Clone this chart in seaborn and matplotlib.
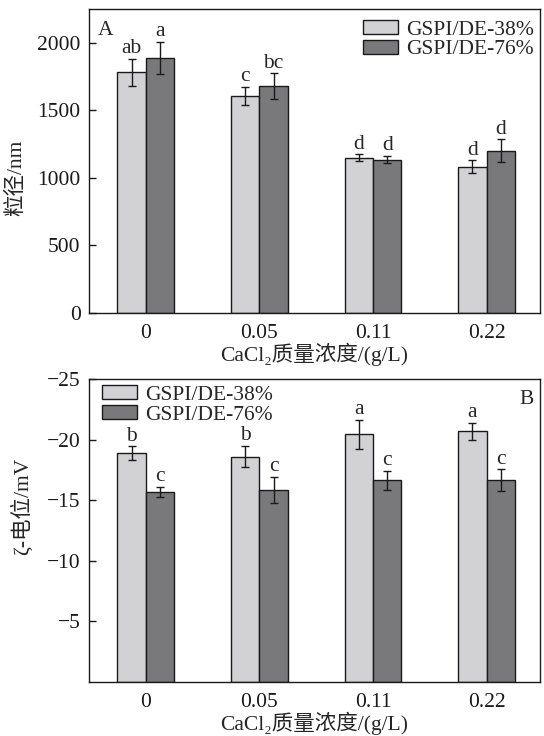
import numpy as np
import pandas as pd
import matplotlib
matplotlib.use("Agg")
import matplotlib.pyplot as plt
import seaborn as sns

# ---- data ----
concentrations = ["0", "0.05", "0.11", "0.22"]
series = ["GSPI/DE-38%", "GSPI/DE-76%"]

size_38 = [1782, 1609, 1149, 1082]
size_38_err = [100, 65, 26, 47]
size_76 = [1891, 1681, 1136, 1200]
size_76_err = [120, 94, 28, 85]
size_38_letters = ["ab", "c", "d", "d"]
size_76_letters = ["a", "bc", "d", "d"]

zeta_38 = [-18.9, -18.6, -20.45, -20.7]
zeta_38_err = [0.55, 0.9, 1.2, 0.7]
zeta_76 = [-15.7, -15.85, -16.65, -16.65]
zeta_76_err = [0.43, 1.1, 0.8, 0.9]
zeta_38_letters = ["b", "b", "a", "a"]
zeta_76_letters = ["c", "c", "c", "c"]

size_yticks = [0, 500, 1000, 1500, 2000]
zeta_yticks = [-25, -20, -15, -10, -5]

sns.set_theme(style="ticks")
plt.rcParams["font.family"] = ["Liberation Serif", "Noto Sans CJK SC", "DejaVu Sans"]
plt.rcParams["axes.unicode_minus"] = True

colors = ["#d2d2d4", "#79797b"]
FS = 15.5

fig = plt.figure(figsize=(5.44, 7.36), dpi=100)
ax1 = fig.add_axes([89 / 544, 1 - 312.7 / 736, 451 / 544, 303.4 / 736])
ax2 = fig.add_axes([89 / 544, 1 - 682 / 736, 451 / 544, 303 / 736])


def make_df(v1, v2):
    return pd.DataFrame({
        "conc": concentrations * 2,
        "value": list(v1) + list(v2),
        "series": [series[0]] * 4 + [series[1]] * 4,
    })


def draw(ax, v1, e1, l1, v2, e2, l2, inverted=False):
    df = make_df(v1, v2)
    sns.barplot(data=df, x="conc", y="value", hue="series", order=concentrations,
                hue_order=series, palette=colors, width=0.5, gap=0, errorbar=None,
                edgecolor="#1a1a1a", linewidth=1.0, saturation=1, ax=ax)
    for cont, errs, letters in zip(ax.containers, [e1, e2], [l1, l2]):
        for p, err, lt in zip(cont.patches, errs, letters):
            xc = p.get_x() + p.get_width() / 2
            h = p.get_height()
            ax.errorbar(xc, h, yerr=err, fmt="none", ecolor="#1a1a1a",
                        elinewidth=1.0, capsize=3, capthick=1.0)
            top = h - err if inverted else h + err
            ax.annotate(lt, (xc, top), xytext=(0, 0.5), textcoords="offset points",
                        ha="center", va="bottom", fontsize=FS)


draw(ax1, size_38, size_38_err, size_38_letters, size_76, size_76_err, size_76_letters)
draw(ax2, zeta_38, zeta_38_err, zeta_38_letters, zeta_76, zeta_76_err, zeta_76_letters,
     inverted=True)

for ax in (ax1, ax2):
    ax.set_xlim(-0.5, 3.47)
    for s in ax.spines.values():
        s.set_visible(True)
        s.set_linewidth(1.0)
        s.set_color("#1a1a1a")
    ax.tick_params(axis="y", direction="in", length=5, width=1.0, pad=6,
                   labelsize=FS, colors="#1a1a1a")
    ax.tick_params(axis="x", length=0, pad=8, labelsize=FS, colors="#1a1a1a")
    ax.set_xlabel("CaCl₂质量浓度/(g/L)", fontsize=FS, labelpad=0)

ax1.set_ylim(0, 2250)
ax1.set_yticks(size_yticks)
ax1.set_ylabel("粒径/nm", fontsize=FS)
ax1.yaxis.set_label_coords(-0.14, 0.444)

ax2.set_ylim(0, -25)
ax2.set_yticks(zeta_yticks)
ax2.set_ylabel("ζ-电位/mV", fontsize=FS)
ax2.yaxis.set_label_coords(-0.124, 0.578)

ax1.text(0.02, 0.96, "A", transform=ax1.transAxes, ha="left", va="top", fontsize=FS)
ax2.text(0.986, 0.965, "B", transform=ax2.transAxes, ha="right", va="top", fontsize=FS)

h, lab = ax1.get_legend_handles_labels()
ax1.legend(h, lab, loc="upper right", bbox_to_anchor=(0.987, 0.965), frameon=False,
           fontsize=FS, handlelength=1.6, handleheight=0.65, handletextpad=0.4,
           labelspacing=0.0, borderpad=0, borderaxespad=0)
h, lab = ax2.get_legend_handles_labels()
ax2.legend(h, lab, loc="upper left", bbox_to_anchor=(0.029, 0.98), frameon=False,
           fontsize=FS, handlelength=1.6, handleheight=0.65, handletextpad=0.4,
           labelspacing=0.0, borderpad=0, borderaxespad=0)

fig.savefig("out.png", dpi=100)
